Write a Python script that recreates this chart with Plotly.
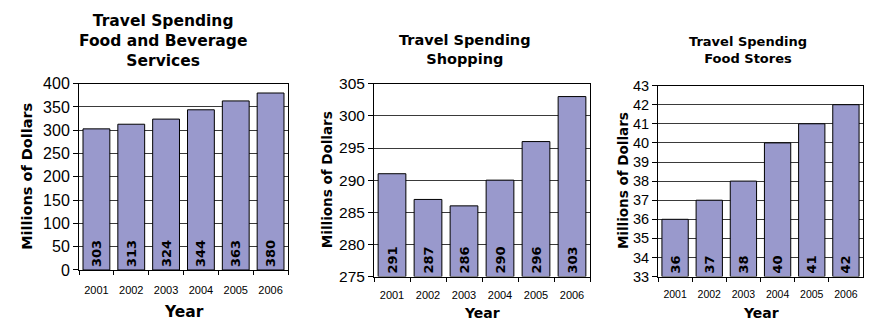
import plotly.graph_objects as go

# Data
years = ["2001", "2002", "2003", "2004", "2005", "2006"]
food_bev = [303, 313, 324, 344, 363, 380]
shopping = [291, 287, 286, 290, 296, 303]
food_stores = [36, 37, 38, 40, 41, 42]

titles = [
    "Travel Spending<br>Food and Beverage<br>Services",
    "Travel Spending<br>Shopping",
    "Travel Spending<br>Food Stores",
]
y_ranges = [(0, 400, 50), (275, 305, 5), (33, 43, 1)]
series = [food_bev, shopping, food_stores]

W, H = 871, 331

# plot-area boxes in pixels: (left, right, top, bottom)
boxes = [(79, 288, 79, 276), (374, 590, 79, 283), (658, 863, 81, 283)]
ytick_sizes = [16, 15.5, 14.5]
xtick_sizes = [11, 11, 10.5]
xtick_standoff = [10, 8, 8]
title_sizes = [15.5, 14.5, 13]
title_cy = [34, 43, 43]
title_cx = [163, 465, 748]
ytitle_cx = [27, 327, 623]
ytitle_sizes = [14.5, 13.5, 13.5]
year_sizes = [15.5, 14, 14]
year_cy = [320, 322, 322]

BAR = "#9999CC"
GRID = "#3a3a3a"

fig = go.Figure()
annotations = []

for i in range(3):
    lo, hi, step = y_ranges[i]
    vals = series[i]
    sfx = "" if i == 0 else str(i + 1)
    fig.add_trace(go.Bar(
        x=years,
        y=[v - lo for v in vals],
        base=lo,
        customdata=vals,
        texttemplate="%{customdata}",
        textposition="inside",
        insidetextanchor="start",
        textangle=-90,
        constraintext="none",
        textfont=dict(family="DejaVu Sans", size=13, color="black", weight="bold"),
        marker=dict(color=BAR, line=dict(color="black", width=1)),
        width=0.77,
        xaxis="x" + sfx,
        yaxis="y" + sfx,
        showlegend=False,
        hoverinfo="skip",
    ))
    l, r, t, b = boxes[i]
    fig.layout["xaxis" + sfx] = dict(
        domain=[l / W, r / W],
        anchor="y" + sfx,
        type="category",
        showline=True, linecolor="black", linewidth=1, mirror=True,
        ticks="outside", ticklen=4, tickcolor="black", tickson="boundaries",
        ticklabelstandoff=xtick_standoff[i],
        tickfont=dict(family="Liberation Sans", size=xtick_sizes[i], color="black"),
        showgrid=False,
        fixedrange=True,
    )
    fig.layout["yaxis" + sfx] = dict(
        domain=[1 - b / H, 1 - t / H],
        anchor="x" + sfx,
        range=[lo, hi],
        dtick=step,
        tick0=lo,
        showline=True, linecolor="black", linewidth=1, mirror=True,
        ticks="outside", ticklen=5, tickcolor="black",
        tickfont=dict(family="Liberation Sans", size=ytick_sizes[i], color="black"),
        showgrid=True, gridcolor=GRID, gridwidth=1,
        zeroline=False,
        fixedrange=True,
    )
    # chart title
    annotations.append(dict(
        text="<b>" + titles[i] + "</b>", xref="paper", yref="paper",
        x=title_cx[i] / W, y=1 - title_cy[i] / H,
        xanchor="center", yanchor="middle", showarrow=False, align="center",
        font=dict(family="DejaVu Sans", size=title_sizes[i], color="black"),
    ))
    # y-axis title
    annotations.append(dict(
        text="<b>Millions of Dollars</b>", xref="paper", yref="paper",
        x=ytitle_cx[i] / W, y=1 - ((t + b) / 2) / H,
        xanchor="center", yanchor="middle", showarrow=False, textangle=-90,
        font=dict(family="DejaVu Sans", size=ytitle_sizes[i], color="black"),
    ))
    # x-axis title
    annotations.append(dict(
        text="<b>Year</b>", xref="paper", yref="paper",
        x=((l + r) / 2) / W, y=1 - year_cy[i] / H,
        xanchor="center", yanchor="middle", showarrow=False,
        font=dict(family="DejaVu Sans", size=year_sizes[i], color="black"),
    ))

fig.update_layout(
    width=W, height=H,
    margin=dict(l=0, r=0, t=0, b=0),
    paper_bgcolor="white", plot_bgcolor="white",
    annotations=annotations,
    bargap=0.23,
)

fig.write_html("out.html")
